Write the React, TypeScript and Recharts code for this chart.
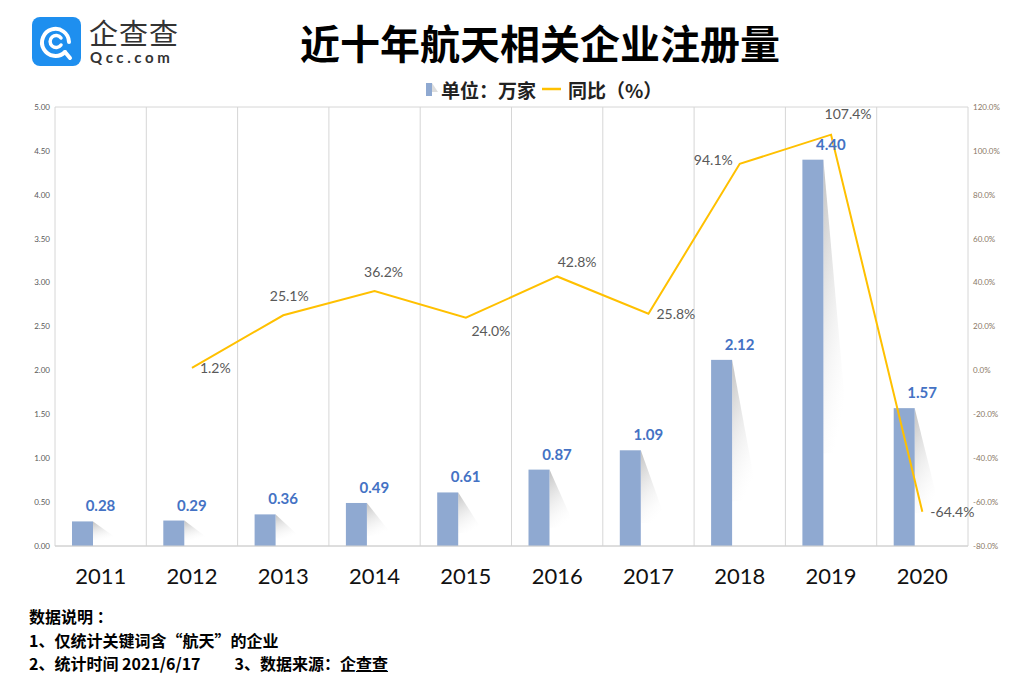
import { Bar, CartesianGrid, ComposedChart, LabelList, Line, XAxis, YAxis } from "recharts";

const years = ["2011", "2012", "2013", "2014", "2015", "2016", "2017", "2018", "2019", "2020"];
const registrations = [0.28, 0.29, 0.36, 0.49, 0.61, 0.87, 1.09, 2.12, 4.4, 1.57];
const yoy: (number | null)[] = [null, 1.2, 25.1, 36.2, 24.0, 42.8, 25.8, 94.1, 107.4, -64.4];

const leftTicks = [0, 0.5, 1, 1.5, 2, 2.5, 3, 3.5, 4, 4.5, 5];
const rightTicks = [-80, -60, -40, -20, 0, 20, 40, 60, 80, 100, 120];

const notes = ["数据说明 ：", "1、仅统计关键词含“航天”的企业"];

const data = years.map((year, i) => ({ year, value: registrations[i], yoy: yoy[i] }));

// where each percent label sits around its point
const pctLabelPlace: Record<string, { dx: number; dy: number; anchor: "start" | "middle" | "end" }> = {
  "2012": { dx: 8, dy: 0, anchor: "start" },
  "2013": { dx: 6, dy: -19, anchor: "middle" },
  "2014": { dx: 9, dy: -19, anchor: "middle" },
  "2015": { dx: 25, dy: 13, anchor: "middle" },
  "2016": { dx: 20, dy: -14, anchor: "middle" },
  "2017": { dx: 8, dy: 0, anchor: "start" },
  "2018": { dx: -7, dy: -4, anchor: "end" },
  "2019": { dx: 17, dy: -21, anchor: "middle" },
  "2020": { dx: 8, dy: 0, anchor: "start" },
};

const CJK = '"Noto Sans CJK SC", "Noto Sans", sans-serif';
const NUM = 'Lato, "Open Sans", sans-serif';
const BAR_FILL = "#8FA9D1";
const BAR_W = 21;

const BarWithShadow = (props: any) => {
  const { x, y, height } = props;
  if (height == null || height <= 0) return null;
  const right = x + BAR_W;
  const sh = height * 0.76;
  return (
    <g>
      <polygon points={`${right},${y} ${right + 26},${y + sh} ${right},${y + sh}`} fill="url(#barShadow)" />
      <rect x={x} y={y} width={BAR_W} height={height} fill={BAR_FILL} />
    </g>
  );
};

const BarValueLabel = (props: any) => {
  const { x, y, width, value } = props;
  return (
    <text x={x + width / 2} y={y - 10} textAnchor="middle" fill="#4472C4" fontSize={15} fontWeight={700} fontFamily={NUM}>
      {Number(value).toFixed(2)}
    </text>
  );
};

const PctLabel = (props: any) => {
  const { x, y, value, index } = props;
  if (value == null) return null;
  const place = pctLabelPlace[years[index]] ?? { dx: 0, dy: -12, anchor: "middle" };
  return (
    <text
      x={x + place.dx}
      y={y + place.dy}
      dy="0.35em"
      textAnchor={place.anchor}
      fill="#595959"
      fontSize={14}
      fontFamily={NUM}
    >
      {`${Number(value).toFixed(1)}%`}
    </text>
  );
};

const boundaryLines = ({ offset }: any) => {
  const step = offset.width / years.length;
  return Array.from({ length: years.length + 1 }, (_, i) => offset.left + step * i);
};

function Logo() {
  return (
    <div style={{ position: "absolute", left: 32, top: 17, width: 160, height: 50 }}>
      <svg width={49} height={49} style={{ position: "absolute", left: 0, top: 0 }}>
        <rect x={0} y={0} width={49} height={49} rx={8} fill="#1E8FEF" />
        <path d="M33 35 A13.5 13.5 0 1 1 37 25" stroke="#fff" strokeWidth={4} fill="none" strokeLinecap="round" />
        <path d="M29 21 A6 6 0 1 0 29 28" stroke="#fff" strokeWidth={3.5} fill="none" strokeLinecap="round" />
        <line x1={33} y1={35} x2={38} y2={41} stroke="#fff" strokeWidth={4} strokeLinecap="round" />
      </svg>
      <div
        style={{
          position: "absolute",
          left: 57,
          top: 0,
          height: 30,
          lineHeight: "30px",
          fontFamily: CJK,
          fontSize: 29,
          color: "#333",
          letterSpacing: 1,
        }}
      >
        企查查
      </div>
      <div
        style={{
          position: "absolute",
          left: 58,
          top: 33,
          height: 15,
          lineHeight: "15px",
          fontFamily: NUM,
          fontSize: 15,
          fontWeight: 700,
          color: "#333",
          letterSpacing: 3.6,
        }}
      >
        Qcc.com
      </div>
    </div>
  );
}

export default function App() {
  return (
    <div style={{ position: "absolute", left: 0, top: 0, width: 1017, height: 680, background: "#fff" }}>
      <Logo />
      <div
        style={{
          position: "absolute",
          left: 0,
          width: 1080,
          top: 17,
          textAlign: "center",
          fontFamily: CJK,
          fontSize: 40,
          fontWeight: 700,
          color: "#000",
          lineHeight: "50px",
        }}
      >
        近十年航天相关企业注册量
      </div>
      <div
        style={{
          position: "absolute",
          left: 424,
          top: 78,
          display: "flex",
          alignItems: "center",
          fontFamily: CJK,
          fontSize: 19,
          fontWeight: 700,
          color: "#222",
          height: 22,
        }}
      >
        <svg width={16} height={16} style={{ marginRight: 1 }}>
          <polygon points="8,2 14,11 8,11" fill="#ddd" />
          <rect x={2} y={2} width={6} height={13} fill={BAR_FILL} />
        </svg>
        <span>单位：万家</span>
        <svg width={24} height={10} style={{ margin: "0 4px" }}>
          <line x1={2} y1={5} x2={21} y2={5} stroke="#FFC000" strokeWidth={2.5} />
        </svg>
        <span>同比（%）</span>
      </div>

      <div style={{ position: "absolute", left: 0, top: 0 }}>
        <ComposedChart width={1017} height={680} data={data} margin={{ top: 107, right: 4, left: 15, bottom: 94 }}>
          <defs>
            <linearGradient id="barShadow" x1="0" y1="0" x2="0.4" y2="1">
              <stop offset="0%" stopColor="#bdbdbd" stopOpacity={0.95} />
              <stop offset="100%" stopColor="#ffffff" stopOpacity={0.2} />
            </linearGradient>
          </defs>
          <CartesianGrid stroke="#d6d6d6" verticalCoordinatesGenerator={boundaryLines} />
          <XAxis
            dataKey="year"
            height={40}
            axisLine={{ stroke: "#d0d0d0" }}
            tickLine={false}
            tickMargin={16}
            tick={{ fontSize: 22, fill: "#111", fontFamily: NUM }}
          />
          <YAxis
            yAxisId="left"
            width={40}
            domain={[0, 5]}
            ticks={leftTicks}
            interval={0}
            axisLine={false}
            tickLine={false}
            tickSize={3}
            tickMargin={2}
            tickFormatter={(v: number) => v.toFixed(2)}
            tick={{ fontSize: 8, fill: "#595959", fontFamily: NUM }}
          />
          <YAxis
            yAxisId="right"
            orientation="right"
            width={45}
            domain={[-80, 120]}
            ticks={rightTicks}
            interval={0}
            axisLine={false}
            tickLine={false}
            tickSize={3}
            tickMargin={2}
            tickFormatter={(v: number) => `${v.toFixed(1)}%`}
            tick={{ fontSize: 8, fill: "#8a7866", fontFamily: NUM }}
          />
          <Bar yAxisId="left" dataKey="value" barSize={57} shape={<BarWithShadow />} isAnimationActive={false}>
            <LabelList dataKey="value" content={<BarValueLabel />} />
          </Bar>
          <Line
            yAxisId="right"
            dataKey="yoy"
            type="linear"
            stroke="#FFC000"
            strokeWidth={2}
            dot={false}
            activeDot={false}
            isAnimationActive={false}
          >
            <LabelList dataKey="yoy" content={<PctLabel />} />
          </Line>
        </ComposedChart>
      </div>

      <div
        style={{
          position: "absolute",
          left: 29,
          top: 605,
          fontFamily: CJK,
          fontSize: 16,
          fontWeight: 700,
          color: "#000",
          lineHeight: "23.5px",
        }}
      >
        {notes.map((n) => (
          <div key={n}>{n}</div>
        ))}
        <div>
          2、统计时间 2021/6/17
          <span style={{ marginLeft: 34 }}>
            3、数据来源：企<span style={{ textDecoration: "underline" }}>查查</span>
          </span>
        </div>
      </div>
    </div>
  );
}
